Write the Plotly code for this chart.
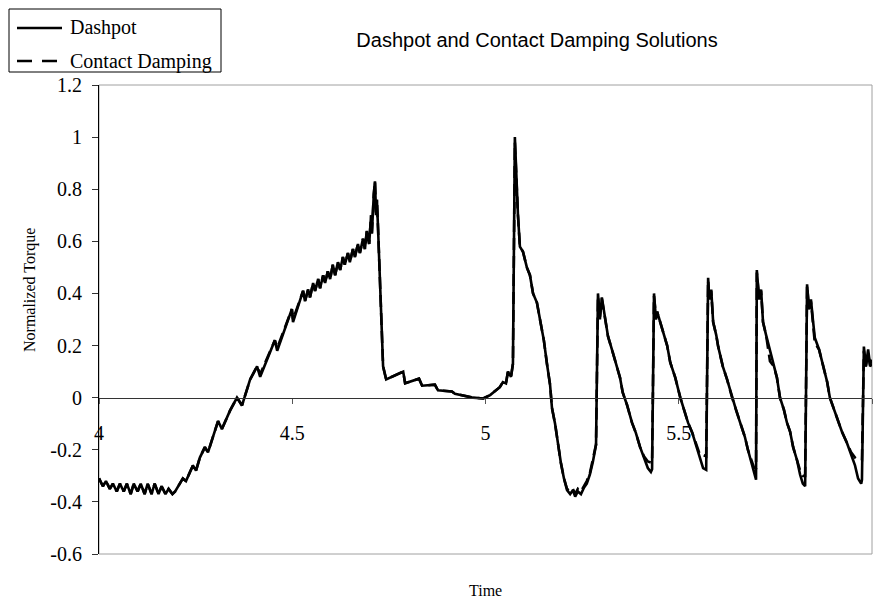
import plotly.graph_objects as go

# Time samples shared by both solutions
time = [
    4.000, 4.010, 4.018, 4.028, 4.036, 4.046, 4.054, 4.064, 4.072, 4.082,
    4.090, 4.100, 4.108, 4.118, 4.126, 4.136, 4.144, 4.154, 4.162, 4.172,
    4.180, 4.190, 4.197, 4.217, 4.225, 4.243, 4.251, 4.261, 4.274, 4.282,
    4.308, 4.318, 4.339, 4.357, 4.370, 4.391, 4.409, 4.417, 4.455, 4.461,
    4.499, 4.502, 4.528, 4.533, 4.541, 4.546, 4.554, 4.559, 4.567, 4.572,
    4.580, 4.585, 4.592, 4.598, 4.605, 4.611, 4.618, 4.624, 4.631, 4.636,
    4.644, 4.649, 4.657, 4.662, 4.670, 4.675, 4.683, 4.688, 4.693, 4.699,
    4.704, 4.706, 4.711, 4.714, 4.717, 4.719, 4.722, 4.735, 4.743, 4.787,
    4.792, 4.828, 4.836, 4.869, 4.877, 4.913, 4.921, 4.968, 4.994, 5.012,
    5.037, 5.045, 5.053, 5.058, 5.066, 5.071, 5.076, 5.081, 5.084, 5.089,
    5.097, 5.107, 5.115, 5.123, 5.133, 5.141, 5.151, 5.159, 5.167, 5.172,
    5.180, 5.188, 5.195, 5.203, 5.211, 5.219, 5.226, 5.232, 5.239, 5.247,
    5.255, 5.262, 5.270, 5.278, 5.286, 5.291, 5.296, 5.301, 5.309, 5.317,
    5.327, 5.340, 5.348, 5.355, 5.366, 5.379, 5.389, 5.400, 5.410, 5.420,
    5.428, 5.431, 5.436, 5.441, 5.444, 5.452, 5.460, 5.470, 5.478, 5.491,
    5.504, 5.514, 5.524, 5.535, 5.547, 5.555, 5.563, 5.571, 5.576, 5.579,
    5.584, 5.589, 5.597, 5.602, 5.614, 5.625, 5.638, 5.648, 5.658, 5.671,
    5.679, 5.687, 5.695, 5.700, 5.702, 5.708, 5.713, 5.718, 5.726, 5.736,
    5.746, 5.754, 5.762, 5.772, 5.780, 5.788, 5.796, 5.806, 5.814, 5.821,
    5.827, 5.832, 5.837, 5.842, 5.847, 5.852, 5.863, 5.873, 5.884, 5.891,
    5.902, 5.912, 5.922, 5.935, 5.946, 5.956, 5.964, 5.972, 5.974, 5.979,
    5.984, 5.990, 5.995, 6.000,
]

dashpot = [
    -0.31, -0.34, -0.32, -0.35, -0.33, -0.36, -0.33, -0.36, -0.33, -0.37,
    -0.33, -0.36, -0.33, -0.37, -0.33, -0.37, -0.33, -0.37, -0.34, -0.37,
    -0.35, -0.37, -0.36, -0.31, -0.32, -0.26, -0.28, -0.23, -0.19, -0.21,
    -0.09, -0.12, -0.05, 0.00, -0.03, 0.07, 0.12, 0.08, 0.22, 0.18,
    0.34, 0.29, 0.41, 0.37, 0.415, 0.385, 0.44, 0.41, 0.455, 0.42,
    0.47, 0.44, 0.485, 0.455, 0.51, 0.47, 0.52, 0.49, 0.54, 0.51,
    0.555, 0.52, 0.57, 0.54, 0.59, 0.555, 0.61, 0.57, 0.64, 0.59,
    0.70, 0.63, 0.78, 0.83, 0.70, 0.76, 0.65, 0.12, 0.07, 0.10,
    0.055, 0.073, 0.046, 0.05, 0.028, 0.024, 0.015, 0.00, -0.003, 0.01,
    0.04, 0.06, 0.055, 0.10, 0.08, 0.13, 1.00, 0.77, 0.70, 0.58,
    0.56, 0.50, 0.47, 0.40, 0.365, 0.30, 0.22, 0.13, 0.05, -0.04,
    -0.10, -0.18, -0.25, -0.31, -0.355, -0.37, -0.355, -0.38, -0.36, -0.37,
    -0.345, -0.33, -0.295, -0.245, -0.18, 0.40, 0.30, 0.385, 0.30, 0.235,
    0.185, 0.12, 0.077, 0.02, -0.027, -0.096, -0.135, -0.19, -0.23, -0.27,
    -0.285, -0.275, 0.40, 0.30, 0.33, 0.29, 0.26, 0.20, 0.135, 0.077,
    0.00, -0.046, -0.096, -0.135, -0.19, -0.23, -0.27, -0.277, 0.46, 0.377,
    0.415, 0.29, 0.24, 0.196, 0.12, 0.07, 0.00, -0.046, -0.092, -0.15,
    -0.20, -0.245, -0.296, -0.315, 0.49, 0.377, 0.415, 0.29, 0.24, 0.185,
    0.12, 0.077, 0.00, -0.046, -0.096, -0.13, -0.19, -0.24, -0.296, -0.33,
    -0.34, 0.435, 0.34, 0.377, 0.30, 0.23, 0.185, 0.12, 0.06, 0.00,
    -0.046, -0.085, -0.13, -0.173, -0.22, -0.26, -0.31, -0.33, -0.315, 0.196,
    0.12, 0.185, 0.127, 0.146,
]

contact = [
    -0.31, -0.34, -0.32, -0.35, -0.33, -0.36, -0.33, -0.36, -0.33, -0.37,
    -0.33, -0.36, -0.33, -0.37, -0.33, -0.37, -0.33, -0.37, -0.34, -0.37,
    -0.35, -0.37, -0.36, -0.31, -0.32, -0.26, -0.28, -0.23, -0.19, -0.21,
    -0.09, -0.12, -0.05, 0.00, -0.03, 0.07, 0.12, 0.09, 0.22, 0.19,
    0.34, 0.30, 0.41, 0.37, 0.415, 0.385, 0.44, 0.41, 0.455, 0.42,
    0.47, 0.44, 0.485, 0.455, 0.51, 0.47, 0.52, 0.49, 0.54, 0.51,
    0.555, 0.52, 0.57, 0.54, 0.59, 0.555, 0.61, 0.57, 0.64, 0.59,
    0.70, 0.63, 0.78, 0.83, 0.70, 0.76, 0.65, 0.12, 0.07, 0.10,
    0.055, 0.073, 0.046, 0.05, 0.028, 0.024, 0.015, 0.00, -0.003, 0.01,
    0.04, 0.06, 0.055, 0.10, 0.08, 0.13, 0.98, 0.77, 0.70, 0.58,
    0.56, 0.50, 0.47, 0.40, 0.365, 0.30, 0.22, 0.13, 0.05, -0.04,
    -0.10, -0.18, -0.25, -0.31, -0.35, -0.36, -0.35, -0.37, -0.35, -0.36,
    -0.34, -0.32, -0.29, -0.24, -0.18, 0.39, 0.31, 0.38, 0.30, 0.235,
    0.185, 0.12, 0.077, 0.02, -0.027, -0.096, -0.135, -0.19, -0.225, -0.245,
    -0.25, -0.25, 0.39, 0.31, 0.33, 0.29, 0.26, 0.20, 0.135, 0.077,
    0.00, -0.046, -0.096, -0.135, -0.19, -0.22, -0.22, -0.225, 0.45, 0.38,
    0.41, 0.29, 0.24, 0.196, 0.12, 0.07, 0.00, -0.046, -0.092, -0.15,
    -0.20, -0.24, -0.27, -0.27, 0.48, 0.38, 0.41, 0.29, 0.24, 0.14,
    0.12, 0.077, 0.00, -0.046, -0.096, -0.13, -0.19, -0.24, -0.28, -0.30,
    -0.30, 0.43, 0.34, 0.37, 0.30, 0.21, 0.185, 0.12, 0.06, 0.00,
    -0.046, -0.085, -0.13, -0.173, -0.21, -0.23, -0.24, -0.24, -0.24, 0.18,
    0.12, 0.17, 0.12, 0.13,
]

x_ticks = [4, 4.5, 5, 5.5, 6]
x_tick_text = ["4", "4.5", "5", "5.5", "6"]
y_ticks = [1.2, 1.0, 0.8, 0.6, 0.4, 0.2, 0.0, -0.2, -0.4, -0.6]
y_tick_text = ["1.2", "1", "0.8", "0.6", "0.4", "0.2", "0", "-0.2", "-0.4", "-0.6"]

series_names = ["Dashpot", "Contact Damping"]
DASH = "15px,10px"

serif = "Liberation Serif, Times New Roman, serif"
sans = "Liberation Sans, Arial, sans-serif"

# plot-area geometry in pixels (used to place the boxed key and labels)
W, H = 876, 606
L, R, T, B = 99, 4, 85, 52
PW, PH = W - L - R, H - T - B


def px_x(p):
    return (p - L) / PW


def px_y(p):
    return (H - B - p) / PH


fig = go.Figure()
fig.add_trace(go.Scatter(
    x=time, y=dashpot, mode="lines", name=series_names[0],
    line=dict(color="black", width=2.6),
))
fig.add_trace(go.Scatter(
    x=time, y=contact, mode="lines", name=series_names[1],
    line=dict(color="black", width=2.6, dash="12px,6px"),
))

# boxed key in the top-left corner
key_rows = [28, 61]
key_shapes = [
    dict(type="rect", xref="paper", yref="paper",
         x0=px_x(9), x1=px_x(221), y0=px_y(72), y1=px_y(9),
         line=dict(color="black", width=1), fillcolor="white", layer="above"),
    dict(type="line", xref="paper", yref="paper",
         x0=px_x(17), x1=px_x(62), y0=px_y(key_rows[0]), y1=px_y(key_rows[0]),
         line=dict(color="black", width=2.6), layer="above"),
    dict(type="line", xref="paper", yref="paper",
         x0=px_x(17), x1=px_x(62), y0=px_y(key_rows[1]), y1=px_y(key_rows[1]),
         line=dict(color="black", width=2.6, dash=DASH), layer="above"),
]
key_labels = [
    dict(text=name, xref="paper", yref="paper", x=px_x(68), y=px_y(row),
         xanchor="left", yanchor="middle", showarrow=False,
         font=dict(family=serif, size=20, color="black"))
    for name, row in zip(series_names, key_rows)
]

fig.update_layout(
    width=W, height=H,
    margin=dict(l=L, r=R, t=T, b=B),
    paper_bgcolor="white", plot_bgcolor="white",
    font=dict(family=serif, color="black"),
    showlegend=False,
    title=dict(
        text="Dashpot and Contact Damping Solutions",
        font=dict(family=sans, size=20, color="black"),
        xref="paper", x=px_x(537), xanchor="center",
        yref="container", y=1 - 40 / H, yanchor="middle",
    ),
    xaxis=dict(
        range=[4, 6], anchor="free", position=1 / 3,
        tickmode="array", tickvals=x_ticks, ticktext=x_tick_text,
        ticks="outside", ticklen=5, tickcolor="#555555",
        showline=True, linecolor="#333333", linewidth=1,
        showgrid=False, zeroline=False,
        tickfont=dict(family=serif, size=20, color="black"),
        ticklabelstandoff=12,
    ),
    yaxis=dict(
        range=[-0.6, 1.2],
        tickmode="array", tickvals=y_ticks, ticktext=y_tick_text,
        ticks="outside", ticklen=6, tickcolor="#333333",
        showline=True, linecolor="black", linewidth=1,
        showgrid=False, zeroline=False,
        tickfont=dict(family=serif, size=20, color="black"),
        ticklabelstandoff=6,
    ),
    shapes=[dict(
        type="rect", xref="paper", yref="paper", x0=0, x1=1, y0=0, y1=1,
        line=dict(color="#a0a0a0", width=1), layer="below",
    )] + key_shapes,
    annotations=[
        dict(text="Normalized Torque", xref="paper", yref="paper",
             x=px_x(30), y=px_y(290), textangle=-90,
             showarrow=False, xanchor="center", yanchor="middle",
             font=dict(family=serif, size=16, color="black")),
        dict(text="Time", xref="paper", yref="paper",
             x=px_x(485), y=px_y(590),
             showarrow=False, xanchor="center", yanchor="middle",
             font=dict(family=serif, size=16, color="black")),
    ] + key_labels,
)

fig.write_html("out.html")
